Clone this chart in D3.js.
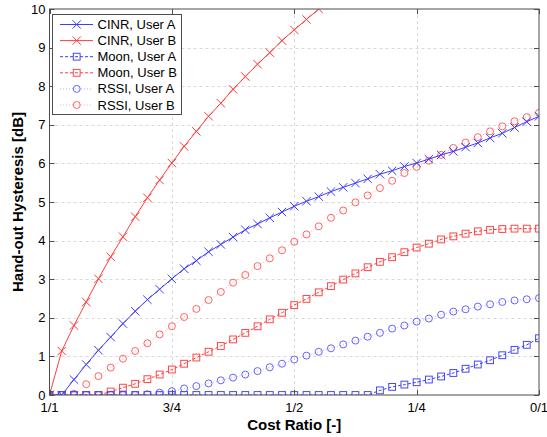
<!DOCTYPE html>
<html><head><meta charset="utf-8">
<script src="https://cdn.jsdelivr.net/npm/d3@7"></script>
<style>body{margin:0;background:#fff;}svg{display:block;font-family:"Liberation Sans",Arial,sans-serif;}</style>
</head><body>
<svg id="chart" width="547" height="437"></svg>
<script>
// x: cost ratio from 1/1 to 0/1 in 40 steps
const costRatio = [1,0.975,0.95,0.925,0.9,0.875,0.85,0.825,0.8,0.775,0.75,0.725,0.7,0.675,0.65,0.625,0.6,0.575,0.55,0.525,0.5,0.475,0.45,0.425,0.4,0.375,0.35,0.325,0.3,0.275,0.25,0.225,0.2,0.175,0.15,0.125,0.1,0.075,0.05,0.025,0];
const xTickValues = [1, 0.75, 0.5, 0.25, 0];
const xTickLabels = ["1/1", "3/4", "1/2", "1/4", "0/1"];
const yTickValues = [0,1,2,3,4,5,6,7,8,9,10];

const cinrA = [0,0,0.40,0.79,1.16,1.50,1.85,2.17,2.47,2.74,3.01,3.27,3.48,3.71,3.90,4.09,4.28,4.43,4.59,4.74,4.89,5.02,5.14,5.27,5.38,5.49,5.60,5.72,5.81,5.92,6.01,6.11,6.22,6.31,6.42,6.53,6.66,6.78,6.93,7.08,7.22];
const cinrB = [0,1.14,1.80,2.41,3.01,3.58,4.10,4.62,5.11,5.57,6.01,6.44,6.83,7.22,7.56,7.92,8.25,8.57,8.87,9.18,9.46,9.73,10.0];
const moonA = [0,0,0,0,0,0,0,0,0,0,0,0,0,0,0,0,0,0,0,0,0,0,0,0,0,0,0,0.12,0.21,0.27,0.33,0.40,0.48,0.57,0.68,0.79,0.90,1.03,1.17,1.30,1.47];
const moonB = [0,0,0,0,0,0.09,0.19,0.29,0.41,0.53,0.66,0.81,0.97,1.12,1.27,1.44,1.61,1.78,1.96,2.13,2.33,2.49,2.66,2.82,2.99,3.15,3.31,3.45,3.57,3.70,3.82,3.92,4.03,4.11,4.18,4.24,4.28,4.30,4.31,4.31,4.31];
const rssiA = [0,0,0,0,0,0,0,0,0.02,0.06,0.10,0.17,0.23,0.30,0.38,0.45,0.53,0.62,0.72,0.81,0.92,1.02,1.12,1.21,1.31,1.41,1.51,1.61,1.72,1.80,1.90,1.98,2.08,2.16,2.22,2.29,2.35,2.41,2.45,2.48,2.51];
const rssiB = [0,0,0.03,0.28,0.49,0.71,0.94,1.14,1.34,1.57,1.78,2.02,2.23,2.46,2.67,2.91,3.11,3.34,3.54,3.75,3.97,4.16,4.37,4.59,4.78,4.99,5.17,5.36,5.55,5.75,5.91,6.07,6.22,6.40,6.54,6.68,6.83,6.96,7.09,7.20,7.31];

const seriesNames = ["CINR, User A","CINR, User B","Moon, User A","Moon, User B","RSSI, User A","RSSI, User B"];
const seriesValues = [cinrA, cinrB, moonA, moonB, rssiA, rssiB];

const BLUE = "#3c3cff", RED = "#ff3c3c";
const styles = [
  {line: BLUE, mark: BLUE, dash: null, marker: "x", lo: 1},
  {line: RED, mark: RED, dash: null, marker: "x", lo: 1},
  {line: BLUE, mark: "#4646ff", dash: "3,2", marker: "s", lo: 1},
  {line: RED, mark: "#ff4646", dash: "3,2", marker: "s", lo: 1},
  {line: "#b4b4ff", mark: "#6464ff", dash: "1,2", marker: "o", lo: 1},
  {line: "#ffb4b4", mark: "#ff6464", dash: "1,2", marker: "o", lo: 1}
];

const L = 49.5, R = 539, T = 9, B = 395;
const svg = d3.select("#chart");
const x = d3.scaleLinear().domain([1, 0]).range([L, R]);
const y = d3.scaleLinear().domain([0, 10]).range([B, T]);

svg.append("rect").attr("width",547).attr("height",437).attr("fill","#fff");

// grid
const grid = svg.append("g").attr("stroke","#d9d9d9").attr("stroke-dasharray","3,3").attr("stroke-width",1);
xTickValues.slice(1, -1).forEach(v => grid.append("line").attr("x1", Math.round(x(v))+0.5).attr("x2", Math.round(x(v))+0.5).attr("y1", T).attr("y2", B));
yTickValues.slice(1, -1).forEach(v => grid.append("line").attr("x1", L).attr("x2", R).attr("y1", Math.round(y(v))+0.5).attr("y2", Math.round(y(v))+0.5));

// clip
svg.append("clipPath").attr("id","clip").append("rect").attr("x",L).attr("y",T).attr("width",R-L).attr("height",B-T);

function drawMarker(g, type, cx, cy, color) {
  if (type === "x") {
    const s = 4.2;
    g.append("path").attr("d", `M${cx-s},${cy-s}L${cx+s},${cy+s}M${cx-s},${cy+s}L${cx+s},${cy-s}`)
      .attr("stroke", color).attr("stroke-width", 1).attr("fill","none");
  } else if (type === "s") {
    const s = 3.4;
    g.append("rect").attr("x", cx-s).attr("y", cy-s).attr("width", 2*s).attr("height", 2*s)
      .attr("stroke", color).attr("stroke-width", 1).attr("fill","none");
  } else {
    g.append("circle").attr("cx", cx).attr("cy", cy).attr("r", 3.5)
      .attr("stroke", color).attr("stroke-width", 1).attr("fill","none");
  }
}

const plot = svg.append("g").attr("clip-path","url(#clip)");
const order = [5,4,3,2,1,0];
order.forEach(k => {
  const vals = seriesValues[k], st = styles[k];
  const pts = vals.map((v,i) => [x(costRatio[i]), y(v)]);
  const g = plot.append("g");
  g.append("path").attr("d", d3.line()(pts)).attr("fill","none").attr("stroke", st.line)
    .attr("stroke-width", 1).attr("stroke-dasharray", st.dash);
  pts.forEach(p => drawMarker(g, st.marker, p[0], p[1], st.mark));
});

// axes box
const ax = svg.append("g").attr("stroke","#4d4d4d").attr("stroke-width",1).attr("fill","none");
ax.append("rect").attr("x", L).attr("y", T).attr("width", R-L).attr("height", B-T);
// ticks inward on all sides
xTickValues.forEach(v => {
  const px = Math.round(x(v))+0.5;
  ax.append("line").attr("x1",px).attr("x2",px).attr("y1",B).attr("y2",B-5);
  ax.append("line").attr("x1",px).attr("x2",px).attr("y1",T).attr("y2",T+5);
});
yTickValues.forEach(v => {
  const py = Math.round(y(v))+0.5;
  ax.append("line").attr("x1",L).attr("x2",L+5).attr("y1",py).attr("y2",py);
  ax.append("line").attr("x1",R).attr("x2",R-5).attr("y1",py).attr("y2",py);
});

// tick labels
const tl = svg.append("g").attr("font-size", 13).attr("fill","#000");
yTickValues.forEach(v => tl.append("text").attr("x", L-4).attr("y", y(v)+4.5).attr("text-anchor","end").text(v));
xTickValues.forEach((v,i) => tl.append("text").attr("x", x(v)).attr("y", 412).attr("text-anchor","middle").text(xTickLabels[i]));

// axis titles
svg.append("text").attr("x", (L+R)/2).attr("y", 430).attr("text-anchor","middle")
  .attr("font-size", 15).attr("font-weight","bold").text("Cost Ratio [-]");
svg.append("text").attr("transform", `translate(23,${(T+B)/2}) rotate(-90)`).attr("text-anchor","middle")
  .attr("font-size", 15).attr("font-weight","bold").text("Hand-out Hysteresis [dB]");

// legend
const lg = svg.append("g");
lg.append("rect").attr("x", 52.5).attr("y", 14.5).attr("width", 129).attr("height", 100)
  .attr("fill","#fff").attr("stroke","#4d4d4d").attr("stroke-width",1);
seriesNames.forEach((name, k) => {
  const st = styles[k];
  const ly = 24.5 + k*16.1;
  lg.append("line").attr("x1", 60).attr("x2", 93).attr("y1", ly).attr("y2", ly)
    .attr("stroke", st.line).attr("stroke-width",1).attr("stroke-dasharray", st.dash);
  drawMarker(lg, st.marker, 76.7, ly, st.mark);
  lg.append("text").attr("x", 97.5).attr("y", ly+4.5).attr("font-size", 13).attr("fill","#000").text(name);
});
</script>
</body></html>
